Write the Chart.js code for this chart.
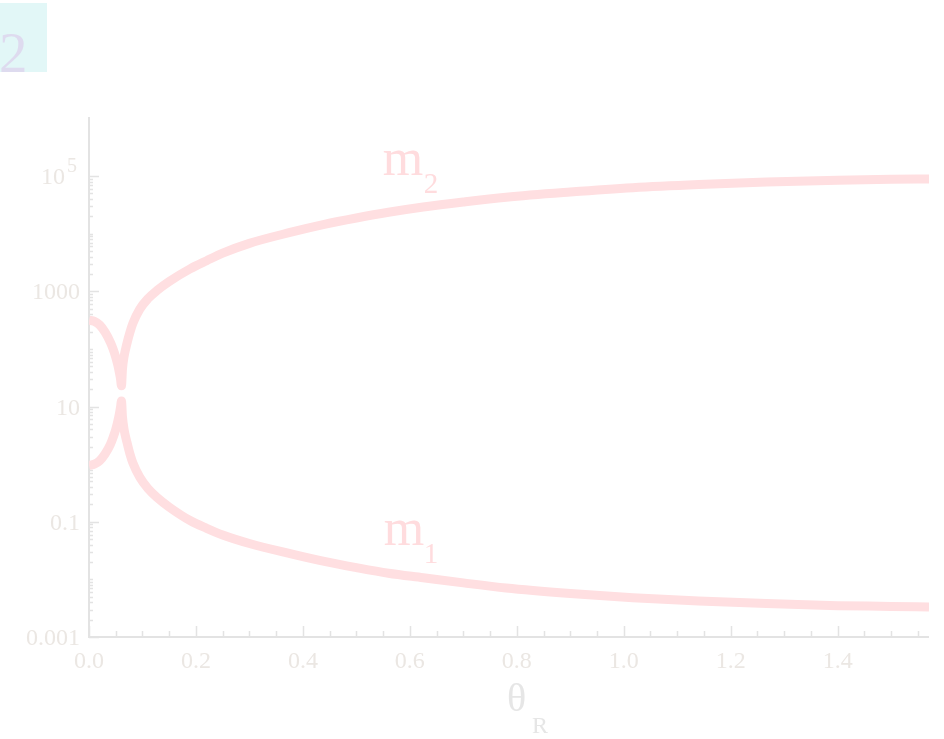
<!DOCTYPE html>
<html>
<head>
<meta charset="utf-8">
<title>m1, m2 vs θR</title>
<script src="https://cdn.jsdelivr.net/npm/chart.js@4.4.1/dist/chart.umd.min.js"></script>
<style>
  html, body { margin: 0; padding: 0; background: #ffffff; }
  canvas { display: block; }
</style>
</head>
<body>
<canvas id="chart" width="944" height="739"></canvas>
<script>
// Mixing angle θR (radians) and the two mass eigenvalues
const thetaR = [0, 0.01, 0.02, 0.03, 0.04, 0.045, 0.05, 0.054, 0.057, 0.059,
  0.0607, 0.0626, 0.0654, 0.071, 0.0766, 0.0822, 0.095, 0.11, 0.127, 0.15,
  0.189, 0.22, 0.25, 0.3, 0.376, 0.44, 0.5, 0.56, 0.625, 0.7,
  0.78, 0.9, 1.017, 1.14, 1.267, 1.4, 1.5, 1.5708];

const m2Values = [316, 300, 260, 195, 130, 100, 72, 52, 38, 30,
  23, 45, 72, 125, 195, 280, 490, 740, 1030, 1480,
  2450, 3400, 4600, 6800, 10500, 14500, 18700, 23500, 29000, 35500,
  43000, 53000, 63000, 71500, 79000, 85000, 88000, 89000];

const m1Values = [0.95, 1.0, 1.15, 1.5, 2.2, 2.9, 4.0, 5.6, 7.6, 9.8,
  12.5, 6.6, 4.1, 2.4, 1.5, 1.04, 0.59, 0.38, 0.265, 0.18,
  0.105, 0.077, 0.059, 0.042, 0.028, 0.0205, 0.016, 0.0128, 0.0107, 0.0087,
  0.0071, 0.0057, 0.0048, 0.0042, 0.0038, 0.0035, 0.0034, 0.0033];

// Axis tick values and labels
const xTickValues = [0, 0.2, 0.4, 0.6, 0.8, 1.0, 1.2, 1.4];
const xTickLabels = ['0.0', '0.2', '0.4', '0.6', '0.8', '1.0', '1.2', '1.4'];
const yTickValues = [0.001, 0.1, 10, 1000, 100000];
const yTickLabels = ['0.001', '0.1', '10', '1000', '10^5'];

const seriesNames = ['m1', 'm2'];

const CURVE = '#ffdfe1';
const AXIS = '#e3e3e3';
const LABEL = '#ebe7e3';
const SERIF = '"Liberation Serif", "DejaVu Serif", serif';

const toPoints = (xs, ys) => xs.map((x, i) => ({ x: x, y: ys[i] }));

const decorations = {
  id: 'decorations',
  beforeDatasetsDraw(chart) {
    const ctx = chart.ctx;
    const xs = chart.scales.x, ys = chart.scales.y;
    const a = chart.chartArea;
    ctx.save();

    // panel tag
    ctx.fillStyle = '#e2f7f7';
    ctx.fillRect(0, 3, 47, 69);
    ctx.fillStyle = '#dedbef';
    ctx.font = '57px ' + SERIF;
    ctx.textAlign = 'left';
    ctx.textBaseline = 'alphabetic';
    ctx.fillText('2', -1, 72);

    // axis lines
    ctx.strokeStyle = AXIS;
    ctx.lineWidth = 2;
    ctx.beginPath();
    ctx.moveTo(a.left, a.top);
    ctx.lineTo(a.left, a.bottom);
    ctx.lineTo(a.right, a.bottom);
    ctx.stroke();

    // x ticks (inward): major every 0.2, minor every 0.05
    ctx.lineWidth = 1.5;
    ctx.beginPath();
    for (let k = 0; k * 0.05 <= xs.max + 1e-9; k++) {
      const v = k * 0.05;
      const px = Math.round(xs.getPixelForValue(v)) + 0.5;
      const len = (k % 4 === 0) ? 11 : 6;
      ctx.moveTo(px, a.bottom);
      ctx.lineTo(px, a.bottom - len);
    }
    ctx.stroke();

    // y ticks (inward): labelled decades long, others short
    ctx.beginPath();
    for (let n = -3; n <= 5; n++) {
      for (let m = 1; m <= 9; m++) {
        const v = m * Math.pow(10, n);
        if (v > 100001) continue;
        const py = Math.round(ys.getPixelForValue(v)) + 0.5;
        const major = m === 1 && yTickValues.some(t => Math.abs(Math.log10(t) - n) < 1e-9);
        const len = major ? 10 : 4;
        ctx.moveTo(a.left, py);
        ctx.lineTo(a.left + len, py);
      }
    }
    ctx.stroke();

    // x tick labels
    ctx.fillStyle = LABEL;
    ctx.font = '24px ' + SERIF;
    ctx.textAlign = 'center';
    ctx.textBaseline = 'alphabetic';
    xTickValues.forEach((v, i) => {
      ctx.fillText(xTickLabels[i], xs.getPixelForValue(v), a.bottom + 31);
    });

    // y tick labels
    ctx.textAlign = 'right';
    yTickValues.forEach((v, i) => {
      const py = ys.getPixelForValue(v);
      const txt = yTickLabels[i];
      if (txt.indexOf('^') >= 0) {
        const [base, exp] = txt.split('^');
        ctx.font = '20px ' + SERIF;
        ctx.fillText(exp, a.left - 12, py - 4);
        const ew = ctx.measureText(exp).width;
        ctx.font = '24px ' + SERIF;
        ctx.fillText(base, a.left - 14 - ew, py + 8);
      } else {
        ctx.font = '24px ' + SERIF;
        ctx.fillText(txt, a.left - 9, py + 8);
      }
    });

    // axis title θR
    ctx.fillStyle = '#e6e6e6';
    ctx.textAlign = 'left';
    ctx.font = '40px ' + SERIF;
    ctx.fillText('θ', 507, 711);
    ctx.font = '24px ' + SERIF;
    ctx.fillText('R', 532, 733);

    ctx.restore();
  },
  afterDatasetsDraw(chart) {
    const ctx = chart.ctx;
    const xs = chart.scales.x, ys = chart.scales.y;
    ctx.save();
    ctx.fillStyle = '#ffdcde';
    ctx.textAlign = 'left';
    ctx.textBaseline = 'alphabetic';
    // curve names next to each branch
    const lx = xs.getPixelForValue(0.551);
    const y2 = ys.getPixelForValue(1.04e5);
    const y1 = ys.getPixelForValue(0.039);
    ctx.font = '52px ' + SERIF;
    ctx.fillText('m', lx - 1, y2);
    ctx.fillText('m', lx, y1);
    ctx.font = '29px ' + SERIF;
    ctx.fillText('2', lx + 40, y2 + 18);
    ctx.fillText('1', lx + 40, y1 + 18);
    ctx.restore();
  }
};

new Chart(document.getElementById('chart'), {
  type: 'line',
  data: {
    datasets: [
      {
        label: seriesNames[0],
        data: toPoints(thetaR, m1Values),
        borderColor: CURVE,
        borderWidth: 9,
        borderCapStyle: 'butt',
        pointRadius: 0,
        fill: false,
        cubicInterpolationMode: 'monotone',
        clip: 0
      },
      {
        label: seriesNames[1],
        data: toPoints(thetaR, m2Values),
        borderColor: CURVE,
        borderWidth: 9,
        borderCapStyle: 'butt',
        pointRadius: 0,
        fill: false,
        cubicInterpolationMode: 'monotone',
        clip: 0
      }
    ]
  },
  options: {
    responsive: false,
    animation: false,
    devicePixelRatio: 1,
    events: [],
    layout: { padding: { left: 0, top: 117, right: 15, bottom: 0 } },
    plugins: { legend: { display: false }, tooltip: { enabled: false } },
    scales: {
      x: {
        type: 'linear',
        min: 0,
        max: 1.5708,
        grid: { display: false },
        border: { display: false },
        ticks: { display: false },
        afterFit: s => { s.height = 102; }
      },
      y: {
        type: 'logarithmic',
        min: 0.001,
        max: 1.06e6,
        grid: { display: false },
        border: { display: false },
        ticks: { display: false },
        afterFit: s => { s.width = 89; }
      }
    }
  },
  plugins: [decorations]
});
</script>
</body>
</html>
